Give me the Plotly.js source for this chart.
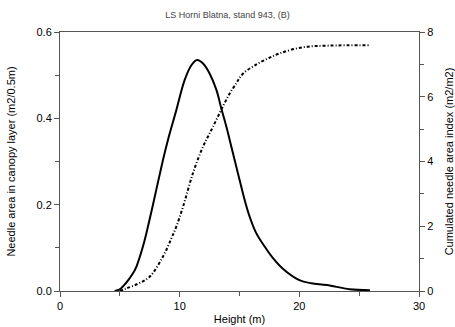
<!DOCTYPE html>
<html><head><meta charset="utf-8">
<script src="https://cdn.plot.ly/plotly-3.0.1.min.js"></script>
<style>body{margin:0;padding:0;background:#fff}#chart{width:455px;height:327px}</style>
</head><body><div id="chart"></div>
<script>
const heightNeedle = [4.57, 5.0, 5.5, 6.1, 6.38, 6.93, 7.22, 7.77, 8.6, 9.02, 9.72, 10.42, 10.98, 11.45, 11.95, 12.5, 13.07, 13.48, 13.9, 14.18, 14.6, 15.01, 15.43, 15.85, 16.4, 17.1, 17.8, 18.6, 20.0, 21.0, 22.3, 24.2, 25.9];
const needleArea   = [0.0, 0.004, 0.018, 0.041, 0.056, 0.103, 0.134, 0.2, 0.303, 0.35, 0.419, 0.489, 0.523, 0.535, 0.527, 0.504, 0.466, 0.423, 0.381, 0.35, 0.303, 0.257, 0.211, 0.172, 0.134, 0.103, 0.076, 0.052, 0.025, 0.018, 0.014, 0.004, 0.002];
const heightCum = [5.0, 5.55, 6.5, 7.49, 8.6, 9.31, 9.72, 10.28, 11.11, 11.95, 12.37, 12.78, 13.48, 14.18, 14.74, 15.0, 15.4, 16.2, 17.3, 18.35, 20.3, 22.5, 25.9];
const cumLAI    = [0.0, 0.08, 0.22, 0.44, 1.06, 1.63, 1.99, 2.6, 3.64, 4.46, 4.77, 5.07, 5.6, 6.1, 6.42, 6.58, 6.75, 6.95, 7.17, 7.34, 7.53, 7.58, 7.59];
const xTicks = [0, 10, 20, 30];
const yTicks = [0.0, 0.2, 0.4, 0.6];
const yTickText = ['0.0', '0.2', '0.4', '0.6'];
const y2Ticks = [0, 2, 4, 6, 8];

const font = {family: 'Liberation Sans, Arial, sans-serif', color: '#000'};
const traces = [
  {x: heightNeedle, y: needleArea, mode: 'lines', line: {color: '#000', width: 2, shape: 'spline', smoothing: 1}, yaxis: 'y', hoverinfo: 'skip'},
  {x: heightCum, y: cumLAI, mode: 'lines', line: {color: '#000', width: 2, dash: '3px,2px,1px,2px', shape: 'spline', smoothing: 1}, yaxis: 'y2', hoverinfo: 'skip'}
];
const layout = {
  width: 455, height: 327,
  margin: {l: 60, r: 36, t: 32, b: 36},
  paper_bgcolor: '#fff', plot_bgcolor: '#fff',
  showlegend: false,
  font: Object.assign({size: 11}, font),
  title: {text: 'LS Horni Blatna, stand 943, (B)', font: Object.assign({}, font, {size: 9, color: '#444'}), x: 0.5, xanchor: 'center', y: 0.955, yanchor: 'middle'},
  xaxis: {
    range: [0, 30], tickvals: xTicks, ticktext: xTicks.map(String),
    ticks: 'outside', ticklen: 5, tickcolor: '#555', showline: true, linecolor: '#555', linewidth: 1, mirror: true,
    showgrid: false, zeroline: false, tickfont: {size: 11},
    minor: {dtick: 5, ticks: 'outside', ticklen: 4, tickcolor: '#555', showgrid: false},
    title: {text: 'Height (m)', font: {size: 11}, standoff: 4}
  },
  yaxis: {
    range: [0, 0.6], tickvals: yTicks, ticktext: yTickText,
    ticks: 'outside', ticklen: 5, tickcolor: '#555', showline: true, linecolor: '#555', linewidth: 1,
    showgrid: false, zeroline: false, tickfont: {size: 11},
    minor: {dtick: 0.1, ticks: 'outside', ticklen: 4, tickcolor: '#555', showgrid: false},
    title: {text: 'Needle area in canopy layer (m2/0.5m)', font: {size: 11}, standoff: 18}
  },
  yaxis2: {
    range: [0, 8], tickvals: y2Ticks, overlaying: 'y', side: 'right',
    ticks: 'outside', ticklen: 5, tickcolor: '#555', showline: true, linecolor: '#555', linewidth: 1,
    showgrid: false, zeroline: false, tickfont: {size: 11},
    minor: {dtick: 1, ticks: 'outside', ticklen: 4, tickcolor: '#555', showgrid: false},
    title: {text: 'Cumulated needle area index (m2/m2)', font: {size: 11}, standoff: 12}
  }
};
Plotly.newPlot('chart', traces, layout, {staticPlot: true, displayModeBar: false});
</script></body></html>
